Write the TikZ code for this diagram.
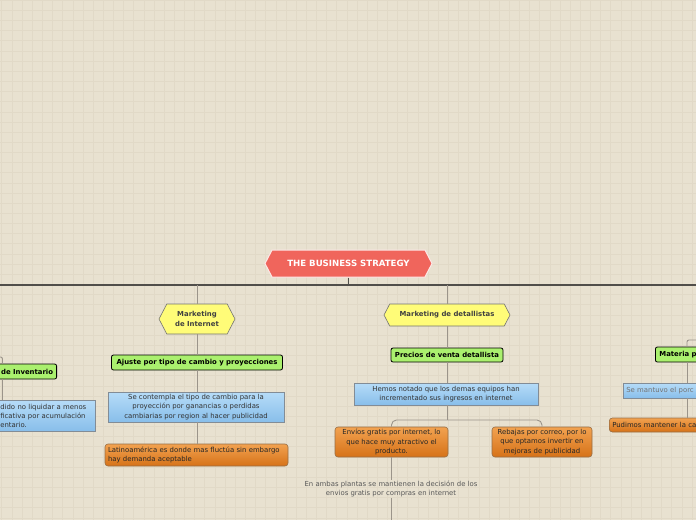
\documentclass[tikz,border=0pt]{standalone}
\usepackage{fontspec}
\setmainfont{DejaVu Sans}
\usetikzlibrary{shapes.symbols}
\definecolor{bg}{RGB}{232,225,208}
\definecolor{gridc}{RGB}{225,217,199}
\definecolor{rootred}{RGB}{240,101,92}
\definecolor{hexyel}{RGB}{255,252,120}
\definecolor{lgreen}{RGB}{170,240,110}
\definecolor{blueT}{RGB}{182,220,248}
\definecolor{blueB}{RGB}{136,190,234}
\definecolor{blueBd}{RGB}{130,140,150}
\definecolor{orT}{RGB}{242,162,80}
\definecolor{orB}{RGB}{214,114,24}
\definecolor{orBd}{RGB}{150,110,70}
\definecolor{connc}{RGB}{155,148,138}
\definecolor{mainc}{RGB}{80,78,74}
\tikzset{
  txt/.style={font=\fontsize{6.9}{9.2}\selectfont},
  btxt/.style={font=\fontsize{6.9}{9.2}\selectfont\bfseries},
  hexbox/.style={shape=signal, signal to=east and west, signal pointer angle=125,
     fill=hexyel, draw=black!55, line width=0.6pt, inner sep=1pt, btxt, text=black!75, align=center},
  greenbox/.style={draw=black, fill=lgreen, rounded corners=2pt, line width=0.8pt, btxt, text=black, inner sep=2pt},
  bluebox/.style={draw=blueBd, top color=blueT, bottom color=blueB, line width=0.6pt, txt, text=black!80, align=center, inner sep=2pt},
  orangebox/.style={draw=orBd, top color=orT, bottom color=orB, rounded corners=3pt, line width=0.6pt, txt, text=black!85, align=center, inner sep=2pt},
  conn/.style={draw=connc, line width=0.9pt},
  mainline/.style={draw=mainc, line width=1.4pt}
}
\begin{document}
\begin{tikzpicture}[x=1pt,y=-1pt]
\useasboundingbox (0,0) rectangle (696,520);
\clip (0,0) rectangle (696,520);
\fill[bg] (0,0) rectangle (696,520);
\foreach \i in {0,...,69} \draw[gridc, line width=0.7pt] ({1.8+\i*10.15},0) -- ({1.8+\i*10.15},520);
\foreach \i in {0,...,52} \draw[gridc, line width=0.7pt] (0,{0.2+\i*10.15}) -- (696,{0.2+\i*10.15});

% root
\node[shape=signal, signal to=east and west, signal pointer angle=125, fill=rootred, draw=white!85!rootred, line width=1pt,
  minimum width=167pt, minimum height=27pt, inner sep=1pt, text=white, font=\fontsize{8.6}{10}\selectfont\bfseries] (root) at (348.5,263.5) {THE BUSINESS STRATEGY};
\coordinate (hl) at (0,285);
\coordinate (hr) at (696,285);
\draw[mainline] (hl) -- (hr);
\draw[mainline, line width=1.2pt] (root.south) -- (root.south |- hl);

% Marketing de Internet branch
\node[hexbox, minimum width=76pt, minimum height=30pt] (mi) at (197,319) {Marketing\\de Internet};
\node[greenbox, minimum width=171pt, minimum height=15pt] (aj) at (197,362.5) {Ajuste por tipo de cambio y proyecciones};
\node[bluebox, minimum width=176pt, minimum height=30pt] (b1) at (196,407) {Se contempla el tipo de cambio para la\\proyección por ganancias o perdidas\\cambiarias por region al hacer publicidad};
\node[orangebox, minimum width=183pt, minimum height=22pt, align=left, text width=177pt] (o1) at (196.5,455) {Latinoamérica es donde mas fluctúa sin embargo\\hay demanda aceptable};
\draw[conn] (mi.north) -- (mi.north |- hl);
\draw[conn] (mi.south) -- (mi.south |- aj.north);
\draw[conn] (mi.south |- aj.south) -- (mi.south |- b1.north);
\draw[conn] (mi.south |- b1.south) -- (mi.south |- o1.north);

% Marketing de detallistas branch
\node[hexbox, minimum width=126pt, minimum height=22pt] (md) at (447,315) {Marketing de detallistas};
\node[greenbox, minimum width=112pt, minimum height=14pt] (pv) at (447,355) {Precios de venta detallista};
\node[bluebox, minimum width=184pt, minimum height=22pt] (b2) at (446,394) {Hemos notado que los demas equipos han\\incrementado sus ingresos en internet};
\node[orangebox, minimum width=113pt, minimum height=30pt] (o2) at (391.5,442) {Envíos gratis por internet, lo\\que hace muy atractivo el\\producto.};
\node[orangebox, minimum width=100pt, minimum height=30pt] (o3) at (542,442) {Rebajas por correo, por lo\\que optamos invertir en\\mejoras de publicidad};
\node[txt, text=black!65, align=center, inner sep=1pt] (t1) at (391,489) {En ambas plantas se mantienen la decisión de los\\envios gratis por compras en internet};
\coordinate (j2) at (447,420);
\coordinate (bot) at (392,520);
\draw[conn] (md.north) -- (md.north |- hl);
\draw[conn] (md.south) -- (md.south |- pv.north);
\draw[conn] (md.south |- pv.south) -- (md.south |- b2.north);
\draw[conn] (md.south |- b2.south) -- (j2);
\draw[conn, rounded corners=5pt] (o2.north) |- (j2) -| (o3.north);
\draw[conn] (o2.south) -- (o2.south |- t1.north);
\draw[conn] (o2.south |- t1.south) -- (o2.south |- bot);

% left partial branch
\node[greenbox, anchor=east, minimum width=80pt, minimum height=15pt, text width=73pt, align=right] (inv) at (57,371.5) {de Inventario};
\node[bluebox, anchor=north west, minimum height=31pt, text width=92pt, align=left, inner xsep=3pt] (lb) at (-3,400) {\mbox{dido no liquidar a menos}\\\mbox{ficativa por acumulación}\\entario.};
\coordinate (ls) at (-5,357);
\coordinate (lx) at (2.5,357);
\draw[conn, rounded corners=2pt] (ls) -- (lx) -- (lx |- inv.north);
\draw[conn] (lx |- inv.south) -- (lx |- lb.north);

% right partial branch
\node[greenbox, anchor=west, minimum width=60pt, minimum height=15pt, text width=52pt, align=left] (mp) at (655,354.5) {\mbox{Materia p}};
\node[bluebox, anchor=west, minimum width=90pt, minimum height=15pt, text width=84pt, align=left, text=black!55] (bp) at (623,390.5) {\mbox{Se mantuvo el porc}};
\node[orangebox, anchor=west, minimum width=100pt, minimum height=14pt, text width=94pt, align=left] (op) at (609,425) {\mbox{Pudimos mantener la ca}};
\coordinate (rs) at (700,340);
\coordinate (rx) at (687,340);
\draw[conn, rounded corners=2pt] (rs) -- (rx) -- (rx |- mp.north);
\draw[conn] (rx |- mp.south) -- (rx |- bp.north);
\draw[conn] (rx |- bp.south) -- (rx |- op.north);
\end{tikzpicture}
\end{document}
